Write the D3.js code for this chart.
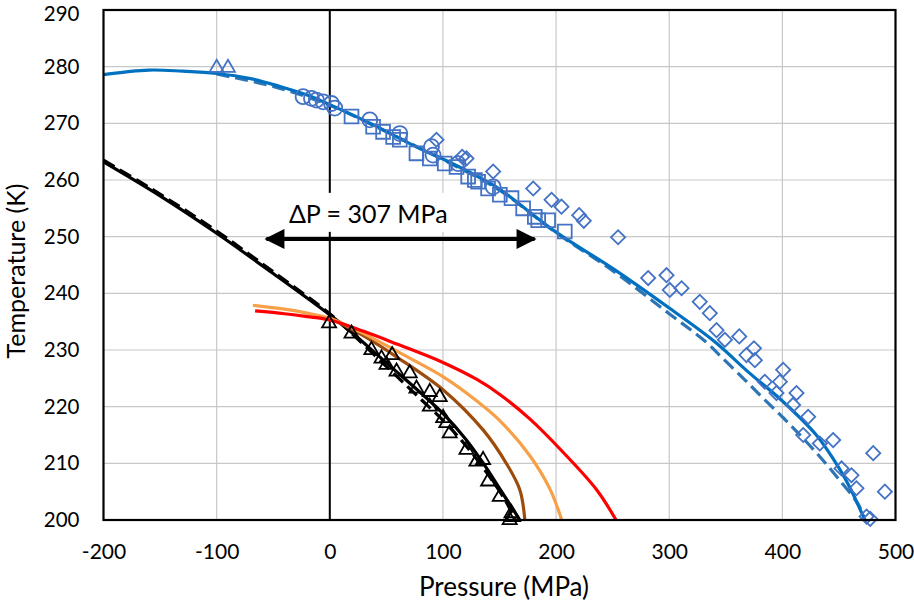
<!DOCTYPE html>
<html>
<head>
<meta charset="utf-8">
<script src="https://cdn.jsdelivr.net/npm/d3@7.9.0/dist/d3.min.js"></script>
<style>
  body { margin: 0; background: #fff; }
  svg { font-family: Lato, "Open Sans", sans-serif; }
</style>
</head>
<body>
<svg id="chart" width="914" height="602"></svg>
<script>
// axis ticks
const xTicks = [-200, -100, 0, 100, 200, 300, 400, 500];
const yTicks = [200, 210, 220, 230, 240, 250, 260, 270, 280, 290];

// blue liquidus curves [P, T]
const blueSolid = [[-200, 278.6], [-160, 279.4], [-130, 279.2], [-100, 278.8], [-70, 277.9], [-44, 276.5],
  [-20, 275], [0, 273.3], [40, 269.6], [80, 265.5], [100, 263.7], [130, 260.7], [150, 258.4], [200, 250.8],
  [250, 244.4], [300, 237.4], [340, 231.5], [370, 226.1], [400, 221], [430, 215], [450, 209.2],
  [460, 205.6], [470, 201.3], [473, 200]];
const blueDashed = [[-100, 278.7], [-50, 276.5], [0, 273.2], [50, 268.5], [100, 263.6], [150, 258.2],
  [200, 250.7], [250, 244], [300, 236.4], [332, 231.5], [349, 228.2], [367, 224.7], [383, 221.5],
  [401, 218], [417, 214.7], [433, 211.2], [449, 207.4], [467, 202.8], [472, 200.5]];

// black curves
const blackSolid = [[-200, 263.2], [-150, 257.2], [-100, 250.6], [-50, 243.5], [0, 236.2], [20, 233],
  [40, 229.5], [60, 226], [80, 222.5], [100, 218.8], [120, 214.3], [135, 210.2], [150, 205.6],
  [160, 202.5], [168, 200]];
const blackDashed = [[-200, 263.5], [-150, 257.5], [-100, 251], [-50, 243.8], [0, 236.4], [20, 232.8],
  [40, 229], [60, 225.2], [80, 221.4], [100, 217.6], [120, 213.2], [140, 208], [155, 203.5], [164, 200]];

// coloured curves
const redLine = [[-66, 236.9], [-40, 236.4], [-20, 235.9], [0, 235.3], [30, 233.3], [60, 231],
  [100, 227.8], [130, 224.8], [150, 222.2], [177, 217.8], [206, 212], [236, 205.3], [253, 200]];
const orangeLine = [[-68, 237.9], [-40, 237.2], [-20, 236.5], [0, 235.6], [30, 232.9], [60, 229.7],
  [100, 225.3], [130, 221], [150, 217.6], [177, 211.3], [194.5, 205.5], [205, 200]];
const brownLine = [[0, 235.7], [30, 232.5], [59, 228.8], [100, 223], [135.5, 215.9], [156, 210],
  [168, 205.3], [172.4, 200]];

// markers [P, T]
const blackTriangles = [[-0.6, 234.7], [19.2, 232.9], [36.8, 230], [45.7, 228.5], [55.1, 229.1],
  [50.1, 227.4], [59, 226.2], [70.7, 225.9], [76.6, 223.2], [88.4, 222.6], [97.2, 221.7], [88.4, 220],
  [100.2, 218], [103, 217.1], [106, 215.3], [120.8, 212.4], [129.6, 210.3], [135.5, 210.6],
  [139.9, 206.8], [150.2, 204.1], [160.6, 201.2], [159, 200], [162, 200.5]];
const blueTriangles = [[-100, 279.8], [-90, 279.8]];
const blueCircles = [[-23.6, 274.7], [-16.2, 274.4], [-11.8, 274.1], [-5.9, 273.8], [1.5, 273.5],
  [4.4, 272.7], [35.4, 270.6], [61.9, 268.2], [89.9, 265.9], [91.3, 264.4], [113.4, 262.9], [144.4, 258.8]];
const blueSquares = [[19.2, 271.2], [38.3, 269.4], [47.1, 268.5], [56, 267.6], [61.9, 267.1], [76.6, 264.7],
  [88.4, 263.8], [101.6, 262.9], [112, 262.3], [122.3, 260.6], [128.2, 260], [131.1, 259.7], [139.9, 258.5],
  [150.3, 257.4], [160.6, 256.8], [170.9, 255], [181.2, 253.5], [184.2, 252.9], [193, 252.9], [207.7, 250.9]];
const blueDiamonds = [[94.3, 267.1], [117, 264.1], [120.8, 263.8], [144.4, 261.5], [179.8, 258.5],
  [196, 256.5], [204.8, 255.3], [220.4, 253.8], [224.5, 252.8], [254.8, 249.9], [281.4, 242.7],
  [297.6, 243.2], [300.5, 240.6], [310.9, 240.9], [327, 238.5], [335.9, 236.5], [341.8, 233.5],
  [349.2, 231.8], [361.9, 232.4], [374.9, 230.3], [368.3, 229.1], [375.7, 228.2], [384.5, 224.4],
  [397.8, 224.4], [400.7, 226.5], [394.8, 222.4], [412.5, 222.4], [409.5, 220.3], [422.8, 218.2],
  [418.4, 215], [433.1, 213.5], [444.9, 214.1], [452.3, 209.1], [461.1, 207.9], [465.5, 205.6],
  [480.3, 211.8], [490.6, 205], [474.4, 200.6], [477.6, 200.2]];

// annotation
const deltaLabel = 'ΔP = 307 MPa';
const arrowP = [-56, 181];
const arrowT = 249.6;
const labelPos = [34, 254.2];

const svg = d3.select('#chart');
const x = d3.scaleLinear().domain([-200, 500]).range([103.5, 895.5]);
const y = d3.scaleLinear().domain([200, 290]).range([520, 10]);

// gridlines
svg.append('g')
  .selectAll('line')
  .data(xTicks.slice(1, -1))
  .join('line')
  .attr('x1', d => x(d)).attr('x2', d => x(d))
  .attr('y1', y(290)).attr('y2', y(200))
  .attr('stroke', '#c8c8c8').attr('stroke-width', 1.2);
svg.append('g')
  .selectAll('line')
  .data(yTicks.slice(1, -1))
  .join('line')
  .attr('x1', x(-200)).attr('x2', x(500))
  .attr('y1', d => y(d)).attr('y2', d => y(d))
  .attr('stroke', '#c8c8c8').attr('stroke-width', 1.2);

// zero pressure line
svg.append('line')
  .attr('x1', x(0)).attr('x2', x(0))
  .attr('y1', y(290)).attr('y2', y(200))
  .attr('stroke', '#000').attr('stroke-width', 2);

// axes (labels only)
const xAxis = svg.append('g')
  .attr('transform', `translate(0,${y(200)})`)
  .call(d3.axisBottom(x).tickValues(xTicks).tickFormat(d => String(d)).tickSize(0).tickPadding(24));
xAxis.select('.domain').remove();
xAxis.selectAll('text').attr('font-size', 21).attr('font-family', 'Lato').attr('fill', '#000');

const yAxis = svg.append('g')
  .attr('transform', `translate(${x(-200)},0)`)
  .call(d3.axisLeft(y).tickValues(yTicks).tickFormat(d => String(d)).tickSize(0).tickPadding(24));
yAxis.select('.domain').remove();
yAxis.selectAll('text').attr('font-size', 20.5).attr('font-family', 'Lato').attr('fill', '#000');
yAxis.selectAll('.tick').filter(d => d === 290).select('text').attr('dy', '0.5em');

svg.append('text')
  .attr('x', 504).attr('y', 596)
  .attr('text-anchor', 'middle').attr('font-size', 26)
  .text('Pressure (MPa)');
svg.append('text')
  .attr('transform', `translate(25,271) rotate(-90)`)
  .attr('text-anchor', 'middle').attr('font-size', 25)
  .text('Temperature (K)');

// curves
const line = d3.line()
  .x(d => x(d[0]))
  .y(d => y(d[1]))
  .curve(d3.curveCatmullRom);

const curves = [
  { data: blueDashed, color: '#2e75b6', dash: '13,6' },
  { data: blackDashed, color: '#000', dash: '13,6' },
  { data: blueSolid, color: '#0070c0', dash: null },
  { data: blackSolid, color: '#000', dash: null },
  { data: brownLine, color: '#9c4c0c', dash: null },
  { data: orangeLine, color: '#f7a048', dash: null },
  { data: redLine, color: '#ff0000', dash: null }
];

svg.append('g')
  .selectAll('path')
  .data(curves)
  .join('path')
  .attr('d', d => line(d.data))
  .attr('fill', 'none')
  .attr('stroke', d => d.color)
  .attr('stroke-width', 3.2)
  .attr('stroke-dasharray', d => d.dash);

// markers
const markerColor = '#4472c4';
const tri = d3.symbol().type(d3.symbolTriangle).size(85);
const sq = d3.symbol().type(d3.symbolSquare).size(190);
const dia = d3.symbol().type(d3.symbolSquare).size(100);

svg.append('g')
  .selectAll('path')
  .data(blueSquares)
  .join('path')
  .attr('d', sq)
  .attr('transform', d => `translate(${x(d[0])},${y(d[1])})`)
  .attr('fill', 'none').attr('stroke', markerColor).attr('stroke-width', 1.8);

svg.append('g')
  .selectAll('circle')
  .data(blueCircles)
  .join('circle')
  .attr('cx', d => x(d[0])).attr('cy', d => y(d[1])).attr('r', 7.5)
  .attr('fill', 'none').attr('stroke', markerColor).attr('stroke-width', 1.8);

svg.append('g')
  .selectAll('path')
  .data(blueDiamonds)
  .join('path')
  .attr('d', dia)
  .attr('transform', d => `translate(${x(d[0])},${y(d[1])}) rotate(45)`)
  .attr('fill', 'none').attr('stroke', markerColor).attr('stroke-width', 1.8);

svg.append('g')
  .selectAll('path')
  .data(blueTriangles)
  .join('path')
  .attr('d', tri)
  .attr('transform', d => `translate(${x(d[0])},${y(d[1])})`)
  .attr('fill', 'none').attr('stroke', markerColor).attr('stroke-width', 1.8);

svg.append('g')
  .selectAll('path')
  .data(blackTriangles)
  .join('path')
  .attr('d', tri)
  .attr('transform', d => `translate(${x(d[0])},${y(d[1])})`)
  .attr('fill', 'none').attr('stroke', '#000').attr('stroke-width', 1.8);

// plot frame
svg.append('rect')
  .attr('x', x(-200)).attr('y', y(290))
  .attr('width', x(500) - x(-200)).attr('height', y(200) - y(290))
  .attr('fill', 'none').attr('stroke', '#000').attr('stroke-width', 2.2);

// delta P annotation
const label = svg.append('text')
  .attr('x', x(labelPos[0])).attr('y', y(labelPos[1]))
  .attr('text-anchor', 'middle').attr('dominant-baseline', 'central')
  .attr('font-size', 25)
  .text(deltaLabel);
const bb = label.node().getBBox();
svg.insert('rect', () => label.node())
  .attr('x', bb.x - 6).attr('y', y(labelPos[1]) - 20)
  .attr('width', bb.width + 12).attr('height', 39)
  .attr('fill', '#fff');

svg.append('defs').append('marker')
  .attr('id', 'head')
  .attr('viewBox', '0 0 10 10')
  .attr('refX', 9).attr('refY', 5)
  .attr('markerWidth', 6.5).attr('markerHeight', 5)
  .attr('markerUnits', 'strokeWidth')
  .attr('orient', 'auto-start-reverse')
  .append('path')
  .attr('d', 'M0,0L10,5L0,10Z')
  .attr('fill', '#000');

svg.append('line')
  .attr('x1', x(arrowP[0])).attr('x2', x(arrowP[1]))
  .attr('y1', y(arrowT)).attr('y2', y(arrowT))
  .attr('stroke', '#000').attr('stroke-width', 4)
  .attr('marker-start', 'url(#head)')
  .attr('marker-end', 'url(#head)');
</script>
</body>
</html>
